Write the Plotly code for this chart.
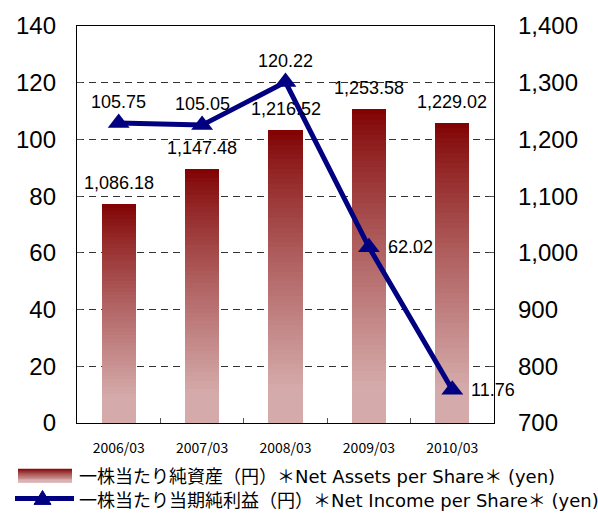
import plotly.graph_objects as go

# ---- data ----
categories = ["2006/03", "2007/03", "2008/03", "2009/03", "2010/03"]
net_assets = [1086.18, 1147.48, 1216.52, 1253.58, 1229.02]      # right axis
net_income = [105.75, 105.05, 120.22, 62.02, 11.76]              # left axis
left_ticks = [0, 20, 40, 60, 80, 100, 120, 140]
right_ticks = [700, 800, 900, 1000, 1100, 1200, 1300, 1400]
legend_jp = ["一株当たり純資産（円）＊", "一株当たり当期純利益（円）＊"]
legend_en = ["Net Assets per Share", "Net Income per Share"]
legend_tail = ["＊", " (yen)"]

# ---- style ----
W, H = 598, 513
ML, MR, MT, MB = 77, 104, 23, 90
PW, PH = W - ML - MR, H - MT - MB
DARK = (128, 0, 0)
LIGHT = (213, 170, 170)
NAVY = "#000080"
NUM_FONT = "Liberation Sans"
JP_FONT = "Noto Sans CJK JP"
EN_FONT = "DejaVu Sans"
income_label_pos = ["above", "above", "above", "right", "right"]


def grad(t):
    """t = 0 at top (dark) .. 1 at bottom (light)"""
    f = min(1.0, t / 0.88) ** 0.85
    c = [round(DARK[i] + (LIGHT[i] - DARK[i]) * f) for i in range(3)]
    return f"rgb({c[0]},{c[1]},{c[2]})"


def px2x(px):
    return (px - ML) / PW


def px2y(py):
    return (MT + PH - py) / PH


fig = go.Figure()

# gradient bars built as stacked slices of each bar
base_val = right_ticks[0]
N = 60
for k in range(N):
    hs = [(v - base_val) / N for v in net_assets]
    t = 1 - (k + 0.5) / N
    fig.add_trace(go.Bar(
        x=categories,
        y=[h * (1.8 if k < N - 1 else 1.0) for h in hs],
        base=[base_val + k * h for h in hs],
        width=0.41,
        marker=dict(color=grad(t), line=dict(width=0)),
        yaxis="y", showlegend=False, hoverinfo="skip",
    ))

# line trace on overlaying left axis
fig.add_trace(go.Scatter(
    x=categories, y=net_income, yaxis="y2",
    mode="lines+markers",
    line=dict(color=NAVY, width=5),
    marker=dict(symbol="triangle-up", size=19, color=NAVY),
    showlegend=False,
))

annotations = []
for c, v in zip(categories, net_assets):
    annotations.append(dict(
        x=c, y=v, xref="x", yref="y", text=f"{v:,.2f}", showarrow=False,
        yanchor="bottom", yshift=9,
        font=dict(family=NUM_FONT, size=18, color="#000"),
    ))
for c, v, pos in zip(categories, net_income, income_label_pos):
    if pos == "above":
        annotations.append(dict(
            x=c, y=v, xref="x", yref="y2", text=f"{v:.2f}", showarrow=False,
            yanchor="bottom", yshift=9,
            font=dict(family=NUM_FONT, size=18, color="#000"),
        ))
    else:
        annotations.append(dict(
            x=c, y=v, xref="x", yref="y2", text=f"{v:.2f}", showarrow=False,
            xanchor="left", xshift=17, yanchor="middle",
            font=dict(family=NUM_FONT, size=18, color="#000"),
        ))

# manual legend
shapes = []
rx0, rx1, ry0, ry1 = 18, 72, 469, 483
rows = ry1 - ry0
for i in range(rows):
    shapes.append(dict(
        type="rect", xref="paper", yref="paper",
        x0=px2x(rx0), x1=px2x(rx1), y0=px2y(ry0 + i), y1=px2y(ry0 + i + 1.3),
        fillcolor=grad((i + 0.5) / rows), line=dict(width=0), layer="above",
    ))
ly = 499
shapes.append(dict(type="line", xref="paper", yref="paper",
                   x0=px2x(15), x1=px2x(74), y0=px2y(ly), y1=px2y(ly),
                   line=dict(color=NAVY, width=5)))
tri = (f"M {px2x(34)},{px2y(505)} L {px2x(51)},{px2y(505)} "
       f"L {px2x(42.5)},{px2y(491)} Z")
shapes.append(dict(type="path", xref="paper", yref="paper", path=tri,
                   fillcolor=NAVY, line=dict(color=NAVY, width=1)))
for jp, en, py in zip(legend_jp, legend_en, [475, 500]):
    txt = (f"{jp}<span style='font-family:{EN_FONT};font-size:18px'>{en}</span>"
           f"{legend_tail[0]}"
           f"<span style='font-family:{EN_FONT};font-size:18px'>{legend_tail[1]}</span>")
    annotations.append(dict(
        x=px2x(77), y=px2y(py), xref="paper", yref="paper", text=txt,
        showarrow=False, xanchor="left", yanchor="middle",
        font=dict(family=JP_FONT, size=18, color="#000"),
    ))

fig.update_layout(
    width=W, height=H,
    margin=dict(l=ML, r=MR, t=MT, b=MB, pad=0),
    paper_bgcolor="white", plot_bgcolor="white",
    barmode="overlay", bargap=0,
    showlegend=False,
    xaxis=dict(
        type="category", range=[-0.5, 4.5],
        showline=True, linecolor="#000", linewidth=1.3, mirror=True,
        ticks="inside", tickson="boundaries", ticklen=5, tickcolor="#555",
        showgrid=False, zeroline=False,
        tickfont=dict(family=JP_FONT, size=14, color="#000"),
        ticklabelstandoff=12,
    ),
    yaxis=dict(
        side="right", range=[right_ticks[0], right_ticks[-1]],
        tickvals=right_ticks, tickformat=",",
        showline=True, linecolor="#000", linewidth=1.3, mirror=True,
        ticks="inside", ticklen=5, tickcolor="#555",
        showgrid=True, gridcolor="#333", gridwidth=1, griddash="7px,5px",
        zeroline=False,
        tickfont=dict(family=NUM_FONT, size=24, color="#000"),
        ticklabelstandoff=18,
    ),
    yaxis2=dict(
        overlaying="y", side="left", range=[left_ticks[0], left_ticks[-1]],
        tickvals=left_ticks,
        showline=False, ticks="inside", ticklen=5, tickcolor="#555",
        showgrid=False, zeroline=False,
        tickfont=dict(family=NUM_FONT, size=24, color="#000"),
        ticklabelstandoff=20,
    ),
    annotations=annotations,
    shapes=shapes,
)

fig.write_html("out.html", config={"displayModeBar": False},
               post_script="document.body.style.margin='0';document.body.style.overflow='hidden';")
